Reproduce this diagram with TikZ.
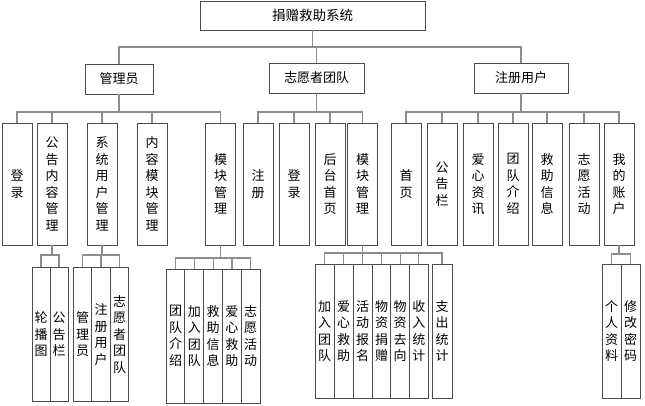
\documentclass[tikz,border=0pt]{standalone}
\usepackage{fontspec}
\newfontfamily\cjk{Noto Sans CJK SC}
\begin{document}
\begin{tikzpicture}[x=1pt,y=-1pt,
  box/.style={draw=black!70, line width=0.8pt, fill=white, inner sep=0pt, align=center,
    font=\cjk\fontsize{13}{16.5}\selectfont},
  lone/.style={box, minimum height=30pt},
  ltwo/.style={box, minimum width=30pt, minimum height=122pt},
  lthree/.style={box, minimum width=19pt, minimum height=134pt},
  conn/.style={draw=black!45, line width=1.2pt}]
\useasboundingbox (0,0) rectangle (645,405);

% root and level 1
\node[box, minimum width=225pt, minimum height=29pt, font=\cjk\fontsize{13.5}{16}\selectfont] (root) at (312.5,15.5) {捐赠救助系统};
\node[lone, minimum width=68pt] (a) at (119,79) {管理员};
\node[lone, minimum width=95pt] (b) at (316.5,78) {志愿者团队};
\node[lone, minimum width=94pt] (c) at (521,78) {注册用户};

% level 2 : admin
\node[ltwo] (a1) at (17,184) {登\\录};
\node[ltwo] (a2) at (52,184) {公\\告\\内\\容\\管\\理};
\node[ltwo] (a3) at (102,184) {系\\统\\用\\户\\管\\理};
\node[ltwo] (a4) at (152,184) {内\\容\\模\\块\\管\\理};
\node[ltwo] (a5) at (220.5,184) {模\\块\\管\\理};
% level 2 : volunteers
\node[ltwo] (b1) at (258,184) {注\\册};
\node[ltwo] (b2) at (294,184) {登\\录};
\node[ltwo] (b3) at (330,184) {后\\台\\首\\页};
\node[ltwo] (b4) at (362.5,184) {模\\块\\管\\理};
% level 2 : users
\node[ltwo] (c1) at (406,184) {首\\页};
\node[ltwo] (c2) at (442,184) {公\\告\\栏};
\node[ltwo] (c3) at (478,184) {爱\\心\\资\\讯};
\node[ltwo] (c4) at (513,184) {团\\队\\介\\绍};
\node[ltwo] (c5) at (547,184) {救\\助\\信\\息};
\node[ltwo] (c6) at (584,184) {志\\愿\\活\\动};
\node[ltwo] (c7) at (619,184) {我\\的\\账\\户};

% level 3
\node[lthree, minimum width=18pt] (a21) at (41,334.5) {轮\\播\\图};
\node[lthree, minimum width=18pt] (a22) at (59,334.5) {公\\告\\栏};
\node[lthree, minimum width=18.5pt] (a31) at (82.5,334.5) {管\\理\\员};
\node[lthree, minimum width=18.5pt] (a32) at (101,334.5) {注\\册\\用\\户};
\node[lthree, minimum width=18.5pt] (a33) at (119.5,334.5) {志\\愿\\者\\团\\队};

\node[lthree] (a51) at (175.5,336) {团\\队\\介\\绍};
\node[lthree] (a52) at (194.3,336) {加\\入\\团\\队};
\node[lthree] (a53) at (213.1,336) {救\\助\\信\\息};
\node[lthree] (a54) at (231.9,336) {爱\\心\\救\\助};
\node[lthree] (a55) at (250.7,336) {志\\愿\\活\\动};

\node[lthree] (b41) at (324.5,331) {加\\入\\团\\队};
\node[lthree] (b42) at (343.5,331) {爱\\心\\救\\助};
\node[lthree] (b43) at (362.5,331) {活\\动\\报\\名};
\node[lthree] (b44) at (381.5,331) {物\\资\\捐\\赠};
\node[lthree] (b45) at (400.2,331) {物\\资\\去\\向};
\node[lthree] (b46) at (418.8,331) {收\\入\\统\\计};
\node[lthree, minimum width=20pt] (b47) at (442,331) {支\\出\\统\\计};

\node[lthree] (c71) at (611.5,331) {个\\人\\资\\料};
\node[lthree] (c72) at (630.5,331) {修\\改\\密\\码};

% buses
\coordinate (bus0) at (0,47);
\coordinate (busA) at (0,112);
\coordinate (busA2) at (0,255);
\coordinate (busA3) at (0,255);
\coordinate (busA5) at (0,258);
\coordinate (busB4) at (0,253);
\coordinate (busC7) at (0,254);

% connectors level 0-1
\draw[conn] (root.south) -- (root.south |- bus0);
\draw[conn] (a.north) |- (bus0 -| c.north) -- (c.north);
\draw[conn] (b.north) -- (b.north |- bus0);

% admin
\draw[conn] (a.south) -- (a.south |- busA);
\draw[conn] (a1.north) |- (busA -| a5.north) -- (a5.north);
\foreach \n in {a2,a3,a4} \draw[conn] (\n.north) -- (\n.north |- busA);
% volunteers
\draw[conn] (b.south) -- (b.south |- busA);
\draw[conn] (b1.north) |- (busA -| b4.north) -- (b4.north);
\foreach \n in {b2,b3} \draw[conn] (\n.north) -- (\n.north |- busA);
% users
\draw[conn] (c.south) -- (c.south |- busA);
\draw[conn] (c1.north) |- (busA -| c7.north) -- (c7.north);
\foreach \n in {c2,c3,c4,c5,c6} \draw[conn] (\n.north) -- (\n.north |- busA);

% level 3
\draw[conn] (a2.south) -- (a2.south |- busA2);
\draw[conn] (a21.north) |- (busA2 -| a22.north) -- (a22.north);

\draw[conn] (a3.south) -- (a3.south |- busA3);
\draw[conn] (a31.north) |- (busA3 -| a33.north) -- (a33.north);
\draw[conn] (a32.north) -- (a32.north |- busA3);

\draw[conn] (a5.south) -- (a5.south |- busA5);
\draw[conn] (a51.north) |- (busA5 -| a55.north) -- (a55.north);
\foreach \n in {a52,a53,a54} \draw[conn] (\n.north) -- (\n.north |- busA5);

\draw[conn] (b4.south) -- (b4.south |- busB4);
\draw[conn] (b41.north) |- (busB4 -| b47.north) -- (b47.north);
\foreach \n in {b42,b43,b44,b45,b46} \draw[conn] (\n.north) -- (\n.north |- busB4);

\draw[conn] (c7.south) -- (c7.south |- busC7);
\draw[conn] (c71.north) |- (busC7 -| c72.north) -- (c72.north);

% redraw boxes' borders on top of connectors
\end{tikzpicture}
\end{document}
